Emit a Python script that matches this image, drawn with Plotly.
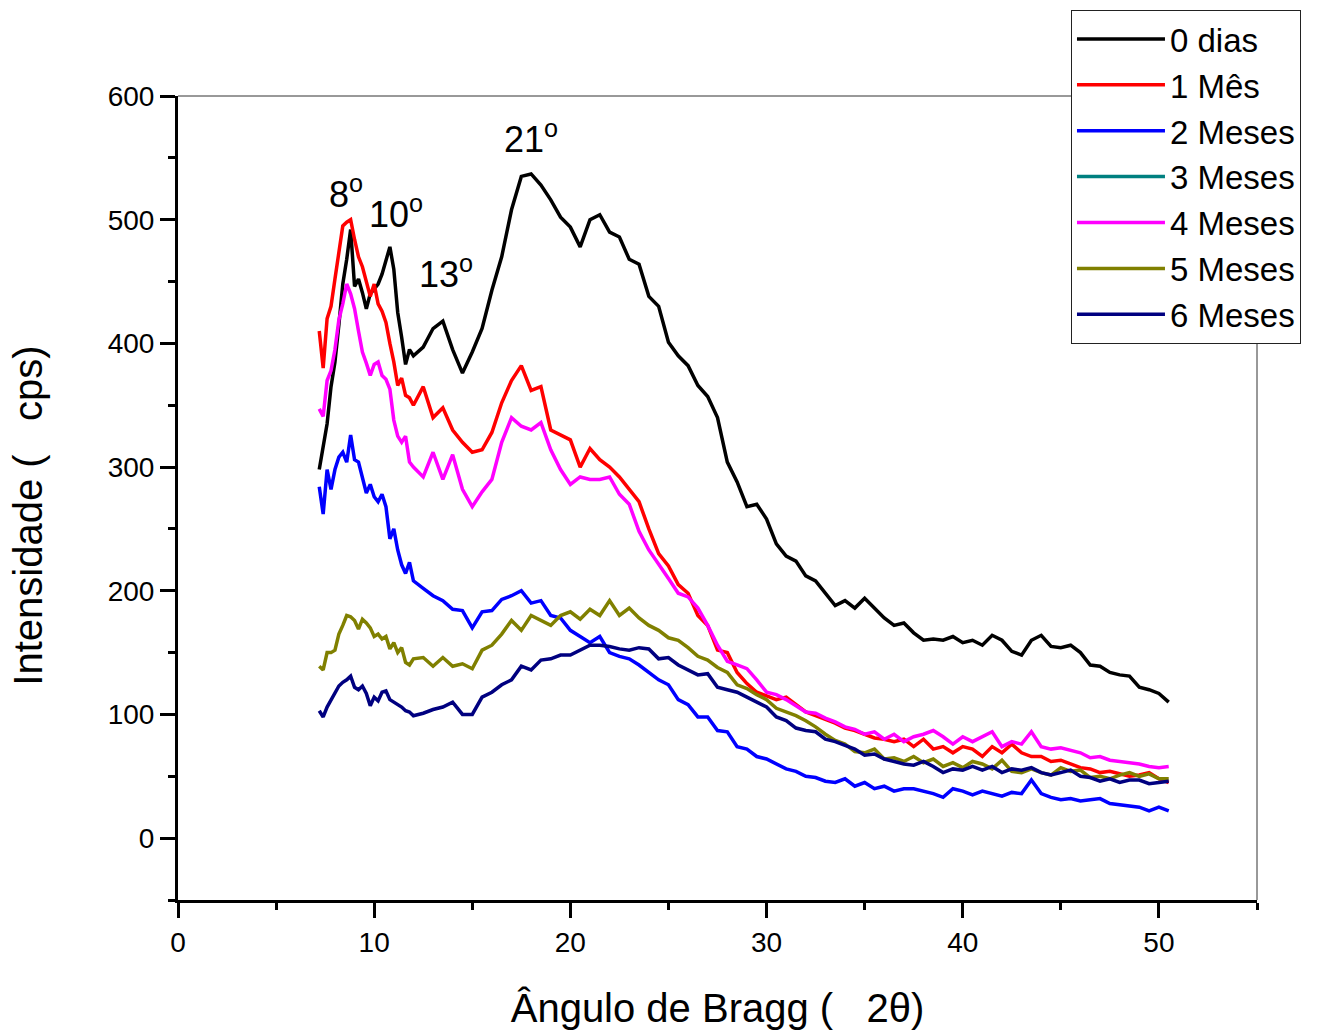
import plotly.graph_objects as go

two_theta = [7.2, 7.4, 7.6, 7.8, 8.0, 8.2, 8.4, 8.6, 8.8, 9.0, 9.2, 9.4, 9.6, 9.8, 10.0,
             10.2, 10.4, 10.6, 10.8, 11.0, 11.2, 11.4, 11.6, 11.8, 12.0,
             12.5, 13.0, 13.5, 14.0, 14.5, 15.0, 15.5, 16.0, 16.5, 17.0, 17.5, 18.0, 18.5,
             19.0, 19.5, 20.0, 20.5, 21.0, 21.5, 22.0, 22.5, 23.0, 23.5, 24.0, 24.5, 25.0,
             25.5, 26.0, 26.5, 27.0, 27.5, 28.0, 28.5, 29.0, 29.5, 30.0, 30.5, 31.0, 31.5,
             32.0, 32.5, 33.0, 33.5, 34.0, 34.5, 35.0, 35.5, 36.0, 36.5, 37.0, 37.5, 38.0,
             38.5, 39.0, 39.5, 40.0, 40.5, 41.0, 41.5, 42.0, 42.5, 43.0, 43.5, 44.0, 44.5,
             45.0, 45.5, 46.0, 46.5, 47.0, 47.5, 48.0, 48.5, 49.0, 49.5, 50.0, 50.5]

dias_0 = [298, 315, 335, 365, 385, 415, 448, 468, 492, 446, 452, 441, 428, 440, 444,
          448, 456, 468, 478, 460, 425, 405, 383, 395, 390,
          397, 412, 418, 395, 376, 393, 412, 443, 470, 508, 535, 537, 528,
          516, 502, 494, 478, 500, 504, 490, 486, 468, 464, 438, 430, 401,
          390, 382, 366, 357, 340, 304, 288, 268, 270, 258, 238, 228, 224,
          212, 208, 198, 188, 192, 186, 194, 186, 178, 172, 174, 166, 160,
          161, 160, 163, 158, 160, 156, 164, 160, 151, 148, 160, 164, 155,
          154, 156, 150, 140, 139, 134, 132, 131, 122, 120, 117, 110]

mes_1 = [410, 380, 420, 430, 452, 475, 495, 498, 500, 484, 470, 462, 450, 438, 448,
         432, 426, 417, 400, 385, 366, 372, 358, 356, 350,
         365, 340, 348, 330, 320, 312, 314, 328, 352, 370, 382, 362, 365,
         330, 326, 322, 300, 315, 306, 300, 292, 282, 272, 250, 230, 220,
         205, 198, 180, 172, 152, 150, 134, 125, 118, 115, 112, 114, 108,
         102, 99, 96, 93, 89, 87, 84, 81, 80, 78, 80, 74, 80,
         72, 74, 69, 74, 72, 66, 74, 69, 76, 69, 66, 66, 62,
         63, 60, 57, 56, 53, 54, 52, 50, 51, 53, 48, 45]

meses_2 = [284, 262, 298, 282, 298, 308, 312, 304, 326, 306, 304, 292, 279, 286, 276,
           272, 278, 268, 242, 250, 233, 221, 214, 223, 208,
           202, 196, 192, 185, 184, 170, 183, 184, 193, 196, 200, 190, 192,
           180, 178, 168, 163, 158, 163, 150, 147, 145, 140, 134, 128, 124,
           112, 108, 98, 98, 87, 86, 74, 72, 66, 64, 60, 56, 54,
           50, 49, 46, 45, 48, 42, 45, 40, 42, 38, 40, 40, 38,
           36, 33, 40, 38, 35, 38, 36, 34, 37, 36, 47, 36, 33,
           31, 32, 30, 31, 32, 28, 27, 26, 25, 22, 25, 22]

meses_3 = [None]

meses_4 = [347, 341, 370, 378, 395, 419, 432, 448, 440, 428, 410, 393, 384, 374, 383,
           385, 374, 371, 363, 338, 325, 320, 325, 304, 300,
           292, 312, 290, 310, 282, 268, 280, 290, 320, 340, 333, 330, 336,
           314, 298, 286, 292, 290, 290, 292, 278, 270, 248, 233, 222, 210,
           198, 195, 186, 172, 156, 143, 140, 137, 128, 118, 116, 112, 107,
           102, 101, 97, 94, 90, 88, 84, 86, 80, 84, 78, 82, 84,
           87, 82, 76, 82, 78, 82, 86, 74, 78, 76, 86, 74, 72,
           73, 71, 69, 65, 66, 63, 62, 61, 60, 58, 57, 58]

meses_5 = [139, 136, 150, 150, 152, 165, 172, 180, 179, 176, 169, 177, 174, 170, 163,
           165, 161, 163, 153, 158, 150, 154, 142, 140, 145,
           146, 139, 146, 139, 141, 137, 152, 156, 165, 176, 168, 180, 176,
           172, 180, 183, 177, 185, 180, 192, 180, 186, 178, 172, 168, 162,
           160, 154, 147, 144, 138, 134, 124, 121, 116, 112, 105, 102, 99,
           95, 90, 84, 79, 76, 70, 69, 72, 64, 65, 62, 66, 61,
           64, 58, 61, 57, 62, 60, 56, 63, 54, 53, 56, 53, 51,
           57, 54, 55, 49, 50, 48, 51, 53, 50, 52, 48, 48]

meses_6 = [103, 98, 106, 112, 118, 123, 126, 128, 131, 122, 120, 123, 117, 107, 114,
           111, 118, 119, 112, 110, 108, 106, 103, 102, 99,
           101, 104, 106, 110, 100, 100, 114, 118, 124, 128, 139, 136, 144,
           145, 148, 148, 152, 156, 156, 155, 153, 152, 154, 153, 145, 146,
           140, 136, 132, 133, 122, 120, 118, 114, 110, 106, 98, 95, 89,
           87, 86, 80, 78, 75, 72, 67, 68, 64, 62, 60, 59, 62,
           58, 53, 56, 55, 58, 55, 58, 53, 56, 55, 57, 53, 51,
           53, 55, 50, 49, 46, 48, 45, 47, 47, 44, 45, 46]

series_names = ["0 dias", "1 Mês", "2 Meses", "3 Meses", "4 Meses", "5 Meses", "6 Meses"]
series_values = [dias_0, mes_1, meses_2, meses_3, meses_4, meses_5, meses_6]
series_colors = ["#000000", "#FF0000", "#0000FF", "#008080", "#FF00FF", "#808000", "#000080"]

peak_labels = ["8<sup>o</sup>", "10<sup>o</sup>", "13<sup>o</sup>", "21<sup>o</sup>"]
peak_x = [8.55, 11.1, 13.65, 18.0]
peak_y = [522, 506, 458, 567]

FONT = "Liberation Sans, Arial, sans-serif"

fig = go.Figure()
for i, (name, vals, col) in enumerate(zip(series_names, series_values, series_colors)):
    xs = two_theta if vals[0] is not None else [None]
    fig.add_trace(go.Scatter(
        x=xs, y=vals, name=name, mode="lines",
        line=dict(color=col, width=3.5),
        legendgroup=f"g{i}",
    ))

for lab, px, py in zip(peak_labels, peak_x, peak_y):
    fig.add_annotation(x=px, y=py, text=lab, showarrow=False,
                       font=dict(family=FONT, size=36, color="black"),
                       xanchor="center", yanchor="middle")

# y-axis title as a rotated annotation
fig.add_annotation(xref="paper", yref="paper", x=-0.139, y=0.478,
                   text="Intensidade (   cps)", textangle=-90, showarrow=False,
                   font=dict(family=FONT, size=40, color="black"),
                   xanchor="center", yanchor="middle")

# thin frame on top and right
fig.add_shape(type="line", xref="paper", yref="paper", x0=0, x1=1, y0=1, y1=1,
              line=dict(color="#333333", width=1))
fig.add_shape(type="line", xref="paper", yref="paper", x0=1, x1=1, y0=0, y1=1,
              line=dict(color="#333333", width=1))

fig.update_layout(
    width=1327, height=1032,
    margin=dict(l=178, r=70, t=96, b=132, autoexpand=False),
    paper_bgcolor="white", plot_bgcolor="white",
    font=dict(family=FONT, color="black"),
    showlegend=True,
    legend=dict(
        x=0.8276, y=1.107, xanchor="left", yanchor="top",
        bgcolor="white", bordercolor="#222222", borderwidth=1,
        font=dict(family=FONT, size=33, color="black"),
        itemwidth=88, traceorder="grouped", tracegroupgap=0,
    ),
    xaxis=dict(
        range=[0, 55], showgrid=False, zeroline=False,
        showline=True, linecolor="black", linewidth=3,
        ticks="outside", ticklen=15, tickwidth=3, tickcolor="black",
        tickmode="linear", tick0=0, dtick=10,
        minor=dict(ticks="outside", ticklen=7, tickwidth=3, tickcolor="black", dtick=5, tick0=0),
        tickfont=dict(family=FONT, size=28, color="black"),
        title=dict(text="Ângulo de Bragg (   2θ)", font=dict(family=FONT, size=40, color="black"),
                   standoff=38),
    ),
    yaxis=dict(
        range=[-50, 600], showgrid=False, zeroline=False,
        showline=True, linecolor="black", linewidth=3,
        ticks="outside", ticklen=15, tickwidth=3, tickcolor="black",
        tickmode="linear", tick0=0, dtick=100,
        minor=dict(ticks="outside", ticklen=7, tickwidth=3, tickcolor="black", dtick=50, tick0=0),
        tickfont=dict(family=FONT, size=28, color="black"),
    ),
)

fig.write_html("out.html")
